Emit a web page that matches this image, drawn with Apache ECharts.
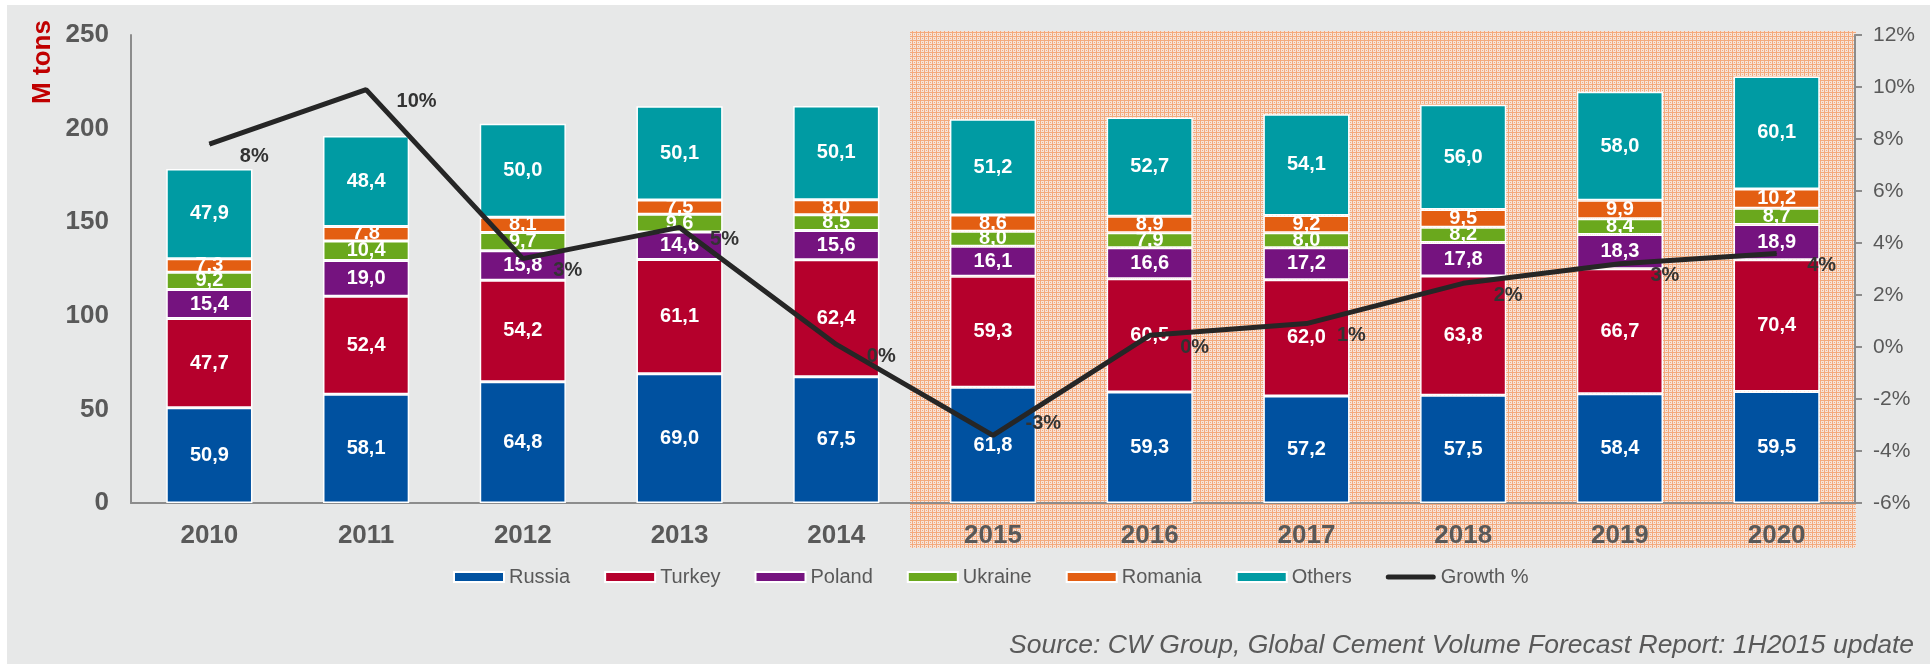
<!DOCTYPE html>
<html>
<head>
<meta charset="utf-8">
<script src="https://cdn.jsdelivr.net/npm/echarts@6/dist/echarts.min.js"></script>
<style>
    html, body { margin: 0; padding: 0; background: #fff; }
    #main { width: 1930px; height: 664px; }
</style>
</head>
<body>
<div id="main"></div>
<script>
var years = ['2010', '2011', '2012', '2013', '2014', '2015', '2016', '2017', '2018', '2019', '2020'];
var russia = [50.9, 58.1, 64.8, 69.0, 67.5, 61.8, 59.3, 57.2, 57.5, 58.4, 59.5];
var turkey = [47.7, 52.4, 54.2, 61.1, 62.4, 59.3, 60.5, 62.0, 63.8, 66.7, 70.4];
var poland = [15.4, 19.0, 15.8, 14.6, 15.6, 16.1, 16.6, 17.2, 17.8, 18.3, 18.9];
var ukraine = [9.2, 10.4, 9.7, 9.6, 8.5, 8.0, 7.9, 8.0, 8.2, 8.4, 8.7];
var romania = [7.3, 7.8, 8.1, 7.5, 8.0, 8.6, 8.9, 9.2, 9.5, 9.9, 10.2];
var others = [47.9, 48.4, 50.0, 50.1, 50.1, 51.2, 52.7, 54.1, 56.0, 58.0, 60.1];
var growth = [7.8, 9.9, 3.4, 4.6, 0.1, -3.4, 0.45, 0.9, 2.45, 3.2, 3.6];

var leftAxisTicks = [0, 250, 50];   // min, max, step (M tons)
var rightAxisTicks = [-6, 12, 2];   // min, max, step (%)

var FONT = '"Liberation Sans", Arial, sans-serif';
var GREY_TEXT = '#595959';

// small orange grid used for the forecast years
function makeHatch() {
    var c = document.createElement('canvas');
    c.width = 4;
    c.height = 4;
    var ctx = c.getContext('2d');
    ctx.fillStyle = '#f5e4da';
    ctx.fillRect(0, 0, 4, 4);
    ctx.fillStyle = '#f4aa7d';
    ctx.fillRect(0, 0, 4, 1);
    ctx.fillRect(0, 0, 1, 4);
    ctx.fillRect(2, 2, 1, 1);
    return c;
}

function barSeries(name, values, color) {
    return {
        name: name,
        type: 'bar',
        stack: 'total',
        barWidth: '55%',
        itemStyle: {
            color: color,
            borderColor: '#fff',
            borderWidth: 1.5
        },
        label: {
            show: true,
            position: 'inside',
            color: '#fff',
            fontFamily: FONT,
            fontWeight: 'bold',
            fontSize: 20,
            formatter: function (p) {
                return p.value.toFixed(1).replace('.', ',');
            }
        },
        data: values
    };
}

function getOption() {
    var hatch = makeHatch();
    return {
        backgroundColor: '#fff',
        textStyle: { fontFamily: FONT },
        animation: false,
        graphic: [
            {
                type: 'rect', z: -10, silent: true,
                shape: { x: 7, y: 5, width: 1923, height: 659 },
                style: { fill: '#e7e8e8' }
            },
            {
                type: 'rect', z: -9, silent: true,
                shape: { x: 910, y: 31, width: 946, height: 517 },
                style: { fill: { image: hatch, repeat: 'repeat' } }
            },
            {
                type: 'text', x: 43, y: 62, rotation: Math.PI / 2,
                style: {
                    text: 'M tons',
                    font: 'bold 26px ' + FONT,
                    fill: '#c00000',
                    align: 'center',
                    verticalAlign: 'middle'
                }
            },
            {
                type: 'text', x: 1914, y: 646,
                style: {
                    text: 'Source: CW Group, Global Cement Volume Forecast Report: 1H2015 update',
                    font: 'italic 26.5px ' + FONT,
                    fill: GREY_TEXT,
                    align: 'right',
                    verticalAlign: 'middle'
                }
            }
        ],
        legend: {
            left: 448,
            top: 562,
            itemWidth: 50,
            itemHeight: 10,
            itemGap: 34,
            textStyle: { fontSize: 20, color: GREY_TEXT, fontFamily: FONT },
            data: [
                { name: 'Russia', icon: 'rect' },
                { name: 'Turkey', icon: 'rect' },
                { name: 'Poland', icon: 'rect' },
                { name: 'Ukraine', icon: 'rect' },
                { name: 'Romania', icon: 'rect' },
                { name: 'Others', icon: 'rect' },
                { name: 'Growth %', icon: 'path://M3,0 H57 A3,3 0 0 1 57,6 H3 A3,3 0 0 1 3,0 Z' }
            ]
        },
        grid: {
            left: 131,
            right: 75,
            top: 35,
            bottom: 161
        },
        xAxis: {
            type: 'category',
            data: years,
            axisLine: { lineStyle: { color: '#8c8c8c', width: 2 } },
            axisTick: { show: false },
            axisLabel: {
                color: GREY_TEXT,
                fontWeight: 'bold',
                fontSize: 26,
                margin: 20
            }
        },
        yAxis: [
            {
                type: 'value',
                min: leftAxisTicks[0],
                max: leftAxisTicks[1],
                interval: leftAxisTicks[2],
                axisLine: { show: true, lineStyle: { color: '#8c8c8c', width: 2 } },
                axisTick: { show: false },
                splitLine: { show: false },
                axisLabel: {
                    color: GREY_TEXT,
                    fontWeight: 'bold',
                    fontSize: 26,
                    margin: 22
                }
            },
            {
                type: 'value',
                position: 'right',
                min: rightAxisTicks[0],
                max: rightAxisTicks[1],
                interval: rightAxisTicks[2],
                axisLine: { show: true, lineStyle: { color: '#8c8c8c', width: 2 } },
                axisTick: { show: true, length: 7, lineStyle: { color: '#8c8c8c', width: 2 } },
                splitLine: { show: false },
                axisLabel: {
                    color: GREY_TEXT,
                    fontSize: 21,
                    margin: 18,
                    formatter: '{value}%'
                }
            }
        ],
        series: [
            barSeries('Russia', russia, '#0051a0'),
            barSeries('Turkey', turkey, '#b5002c'),
            barSeries('Poland', poland, '#75137f'),
            barSeries('Ukraine', ukraine, '#6aa81d'),
            barSeries('Romania', romania, '#e35e12'),
            barSeries('Others', others, '#009ba3'),
            {
                name: 'Growth %',
                type: 'line',
                yAxisIndex: 1,
                z: 10,
                symbol: 'circle',
                symbolSize: 1,
                itemStyle: { color: '#262626' },
                lineStyle: { color: '#262626', width: 5 },
                label: {
                    show: true,
                    position: 'right',
                    distance: 5,
                    offset: [25, 12],
                    color: '#333',
                    fontWeight: 'bold',
                    fontSize: 20,
                    formatter: function (p) {
                        return Math.round(p.value) + '%';
                    }
                },
                data: growth.map(function (v, i) {
                    // 2015 label sits above-right of the dip
                    if (i === 5) return { value: v, label: { offset: [27, -12] } };
                    return v;
                })
            }
        ]
    };
}

var chart = echarts.init(document.getElementById('main'), null, { renderer: 'canvas' });
chart.setOption(getOption());
</script>
</body>
</html>
